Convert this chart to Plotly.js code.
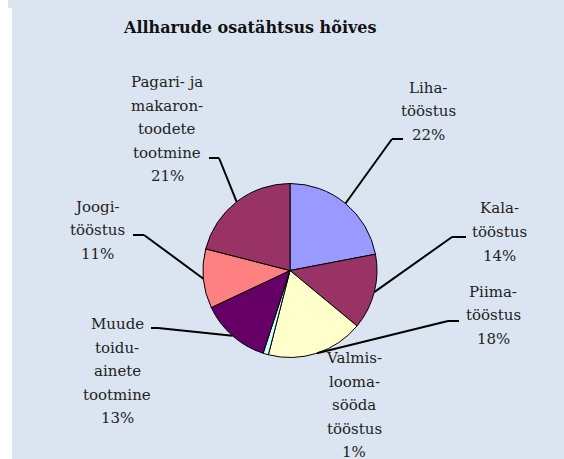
<!DOCTYPE html>
<html>
<head>
<meta charset="utf-8">
<script src="https://cdn.plot.ly/plotly-3.0.1.min.js"></script>
<style>html,body{margin:0;padding:0;background:#fff;}#chart{width:564px;height:459px;}</style>
</head>
<body>
<div id="chart"></div>
<script>
// ---- data ----
var categories = ["Liha-\ntööstus", "Kala-\ntööstus", "Piima-\ntööstus", "Valmis-\nlooma-\nsööda\ntööstus", "Muude\ntoidu-\nainete\ntootmine", "Joogi-\ntööstus", "Pagari- ja\nmakaron-\ntoodete\ntootmine"];
var shares = [22, 14, 18, 1, 13, 11, 21];
var colors = ["#9999FF", "#993366", "#FFFFCC", "#CCFFFF", "#660066", "#FF8080", "#993366"];

// ---- layout constants (pixels) ----
var W = 564, H = 459;
var cx = 290, cy = 270.5, R = 87;
var FONT = "DejaVu Serif";
var LINE_GAP = 23.5;
// label centres and leader-line elbows/ends
var labelPos = [[428, 111], [499, 232], [493, 315], [354, 405], [117, 371], [97, 230], [167, 129]];
var elbows = [[392, 139, 403], [452, 237, 466], [448, 321, 459], null, [158, 328, 151], [144, 235, 133], [219, 158, 209]];

function px(x) { return x / W; }
function py(y) { return 1 - y / H; }

var total = shares.reduce(function (a, b) { return a + b; }, 0);
var annotations = [], shapes = [];
var cum = 0;
shares.forEach(function (v, i) {
  var mid = (cum + v / 2) / total * 2 * Math.PI;
  cum += v;
  var ex = cx + R * Math.sin(mid), ey = cy - R * Math.cos(mid);
  var pct = Math.round(v / total * 100) + "%";
  var lines = categories[i].split("\n").concat([pct]);
  var n = lines.length;
  lines.forEach(function (t, k) {
    annotations.push({
      xref: "paper", yref: "paper", x: px(labelPos[i][0]),
      y: py(labelPos[i][1] + (k - (n - 1) / 2) * LINE_GAP),
      xanchor: "center", yanchor: "middle", showarrow: false, align: "center",
      text: t, font: {family: FONT, size: 15, color: "#222"}
    });
  });
  var e = elbows[i];
  if (e) {
    shapes.push({type: "line", xref: "paper", yref: "paper", x0: px(ex), y0: py(ey), x1: px(e[0]), y1: py(e[1]), line: {color: "#000", width: 2}});
    shapes.push({type: "line", xref: "paper", yref: "paper", x0: px(e[0]), y0: py(e[1]), x1: px(e[2]), y1: py(e[1]), line: {color: "#000", width: 2}});
  }
});

// white strips at the left edge
shapes.push({type: "rect", xref: "paper", yref: "paper", x0: 0, x1: px(8), y0: 0, y1: 1, fillcolor: "#fff", line: {width: 0}, layer: "below"});
shapes.push({type: "rect", xref: "paper", yref: "paper", x0: 0, x1: px(12), y0: 0, y1: py(8), fillcolor: "#fff", line: {width: 0}, layer: "below"});

annotations.push({
  xref: "paper", yref: "paper", x: px(249), y: py(27), xanchor: "center", yanchor: "middle", showarrow: false,
  text: "<b>Allharude osatähtsus hõives</b>",
  font: {family: FONT, size: 16, color: "#111"}
});

var trace = {
  type: "pie", values: shares, labels: categories.map(function (c) { return c.replace(/\n/g, " "); }),
  sort: false, direction: "clockwise", rotation: 0,
  marker: {colors: colors, line: {color: "#000", width: 1}},
  textinfo: "none", hoverinfo: "skip",
  domain: {x: [px(cx - R), px(cx + R)], y: [py(cy + R), py(cy - R)]}
};

Plotly.newPlot("chart", [trace], {
  width: W, height: H, margin: {l: 0, r: 0, t: 0, b: 0},
  paper_bgcolor: "#DBE5F1", showlegend: false,
  annotations: annotations, shapes: shapes
}, {displayModeBar: false, staticPlot: true});
</script>
</body>
</html>
